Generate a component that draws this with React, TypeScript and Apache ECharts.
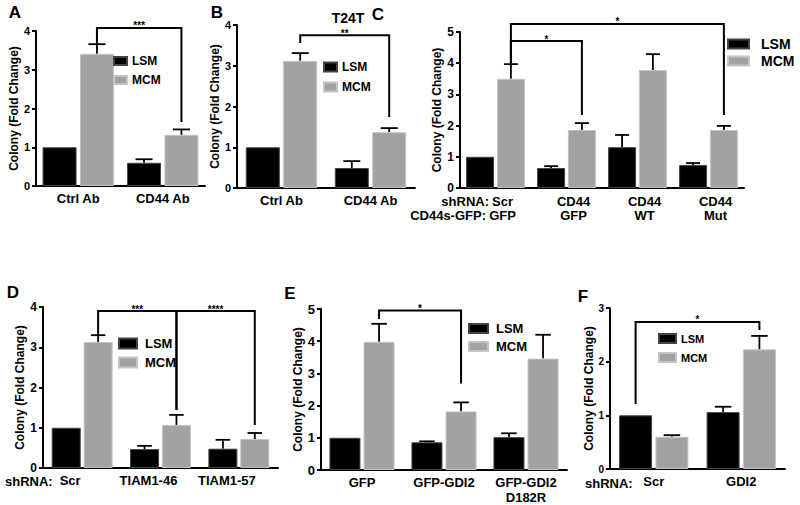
import React, { useEffect, useRef } from 'react';
import * as echarts from 'echarts';

// ---------- data ----------
const aCategories = ['Ctrl Ab', 'CD44 Ab'];
const aLSM = [1.0, 0.6];
const aLSMErr = [0, 0.09];
const aMCM = [3.41, 1.32];
const aMCMErr = [0.25, 0.14];
// [cat1, side1, legBottom1, cat2, side2, legBottom2, top]  side 0 = LSM, 1 = MCM
const aBrackets = [[0, 1, 3.66, 1, 1, 1.65, 4.08]];
const aStars = ['***'];

const bCategories = ['Ctrl Ab', 'CD44 Ab'];
const bLSM = [1.0, 0.49];
const bLSMErr = [0, 0.17];
const bMCM = [3.12, 1.37];
const bMCMErr = [0.19, 0.1];
const bBrackets = [[0, 1, 3.56, 1, 1, 1.74, 3.75]];
const bStars = ['**'];

const cCategories = ['Scr\nGFP', 'CD44\nGFP', 'CD44\nWT', 'CD44\nMut'];
const cLSM = [1.0, 0.64, 1.31, 0.74];
const cLSMErr = [0, 0.06, 0.39, 0.06];
const cMCM = [3.5, 1.86, 3.78, 1.86];
const cMCMErr = [0.47, 0.22, 0.51, 0.13];
const cBrackets = [
  [0, 1, 3.97, 1, 1, 2.34, 4.71],
  [0, 1, 3.97, 3, 1, 2.34, 5.26],
];
const cStars = ['*', '*'];

const dCategories = ['Scr', 'TIAM1-46', 'TIAM1-57'];
const dLSM = [1.0, 0.47, 0.48];
const dLSMErr = [0, 0.08, 0.22];
const dMCM = [3.13, 1.07, 0.72];
const dMCMErr = [0.17, 0.25, 0.15];
const dBrackets = [
  [0, 1, 3.3, 1, 1, 1.44, 3.9],
  [1, 1, 1.44, 2, 1, 1.07, 3.9],
];
const dStars = ['***', '****'];

const eCategories = ['GFP', 'GFP-GDI2', 'GFP-GDI2\nD182R'];
const eLSM = [1.0, 0.86, 1.02];
const eLSMErr = [0, 0.03, 0.12];
const eMCM = [3.98, 1.82, 3.46];
const eMCMErr = [0.56, 0.28, 0.74];
const eBrackets = [[0, 1, 4.69, 1, 1, 2.69, 4.95]];
const eStars = ['*'];

const fCategories = ['Scr', 'GDI2'];
const fLSM = [1.0, 1.06];
const fLSMErr = [0, 0.1];
const fMCM = [0.6, 2.23];
const fMCMErr = [0.03, 0.25];
const fBrackets = [[0, 0, 1.21, 1, 1, 2.59, 2.74]];
const fStars = ['*'];

const yTitle = 'Colony (Fold Change)';
const seriesNames = ['LSM', 'MCM'];

// ---------- layout / style ----------
const FONT = '"Liberation Sans", Arial, Helvetica, sans-serif';
const GRAY = '#a2a2a2';

const panels = [
  {
    cats: aCategories, lsm: aLSM, lsmErr: aLSMErr, mcm: aMCM, mcmErr: aMCMErr, br: aBrackets, stars: aStars,
    grid: { left: 36, top: 31, width: 169, height: 155 }, yMax: 4, barW: 34, nameGap: 16,
    tickFont: 11, catFont: 13, catPad: [0, 0, 0, 0], catLH: 15, catMargin: 5,
    legend: { left: 113, top: 54, itemWidth: 13, itemHeight: 8, itemGap: 5, fontSize: 12, lh: 14 },
  },
  {
    cats: bCategories, lsm: bLSM, lsmErr: bLSMErr, mcm: bMCM, mcmErr: bMCMErr, br: bBrackets, stars: bStars,
    grid: { left: 237, top: 25, width: 178, height: 163 }, yMax: 4, barW: 34, nameGap: 12,
    tickFont: 11, catFont: 13, catPad: [0, 0, 0, 0], catLH: 15, catMargin: 5,
    legend: { left: 323, top: 60, itemWidth: 13, itemHeight: 9, itemGap: 6, fontSize: 12, lh: 14 },
  },
  {
    cats: cCategories, lsm: cLSM, lsmErr: cLSMErr, mcm: cMCM, mcmErr: cMCMErr, br: cBrackets, stars: cStars,
    grid: { left: 460, top: 32, width: 284, height: 156 }, yMax: 5, barW: 28, nameGap: 13,
    tickFont: 12, catFont: 13, catPad: [0, 0, 0, 14], catLH: 14, catMargin: 6,
    legend: { left: 727, top: 36, itemWidth: 21, itemHeight: 9, itemGap: 1, fontSize: 14, lh: 16, textPad: 7 },
  },
  {
    cats: dCategories, lsm: dLSM, lsmErr: dLSMErr, mcm: dMCM, mcmErr: dMCMErr, br: dBrackets, stars: dStars,
    grid: { left: 43, top: 307, width: 235, height: 161 }, yMax: 4, barW: 29, nameGap: 13,
    tickFont: 12, catFont: 13, catPad: [0, 24, 0, 0], catLH: 15, catMargin: 5,
    legend: { left: 118, top: 336, itemWidth: 18, itemHeight: 10, itemGap: 4, fontSize: 13, lh: 15, textPad: 3 },
  },
  {
    cats: eCategories, lsm: eLSM, lsmErr: eLSMErr, mcm: eMCM, mcmErr: eMCMErr, br: eBrackets, stars: eStars,
    grid: { left: 321, top: 309, width: 246, height: 161 }, yMax: 5, barW: 31, nameGap: 13,
    tickFont: 13, catFont: 13, catPad: [0, 0, 0, 0], catLH: 15, catMargin: 5,
    legend: { left: 468, top: 321, itemWidth: 19, itemHeight: 9, itemGap: 3, fontSize: 13, lh: 15, textPad: 3 },
  },
  {
    cats: fCategories, lsm: fLSM, lsmErr: fLSMErr, mcm: fMCM, mcmErr: fMCMErr, br: fBrackets, stars: fStars,
    grid: { left: 610, top: 308, width: 175, height: 161 }, yMax: 3, barW: 33, nameGap: 13,
    tickFont: 10, catFont: 13, catPad: [0, 0, 0, 0], catLH: 15, catMargin: 5,
    legend: { left: 658, top: 332, itemWidth: 17, itemHeight: 9, itemGap: 6, fontSize: 11, lh: 13 },
  },
];

const letters = [
  { t: 'A', x: 15, y: 12 },
  { t: 'B', x: 217, y: 12 },
  { t: 'C', x: 378, y: 14 },
  { t: 'D', x: 13, y: 292 },
  { t: 'E', x: 290, y: 293 },
  { t: 'F', x: 583, y: 296 },
];

function buildOption() {
  const grid: any[] = [];
  const xAxis: any[] = [];
  const yAxis: any[] = [];
  const series: any[] = [];
  const legend: any[] = [];

  panels.forEach((p, i) => {
    const gapFrac = 0.1;
    const off = (p.barW * (1 + gapFrac)) / 2;
    const capW = p.barW * 0.5;
    grid.push({ ...p.grid, containLabel: false });
    xAxis.push({
      type: 'category', gridIndex: i, data: p.cats,
      axisLine: { lineStyle: { color: '#000', width: 2 } },
      axisTick: { show: false },
      axisLabel: {
        color: '#000', fontWeight: 'bold', fontSize: p.catFont, fontFamily: FONT,
        margin: p.catMargin, interval: 0, lineHeight: p.catLH, padding: p.catPad,
      },
    });
    yAxis.push({
      type: 'value', gridIndex: i, min: 0, max: p.yMax, interval: 1,
      splitLine: { show: false },
      axisLine: { show: true, lineStyle: { color: '#000', width: 2 } },
      axisTick: { show: true, length: 4, lineStyle: { color: '#000', width: 2 } },
      axisLabel: { color: '#000', fontWeight: 'bold', fontSize: p.tickFont, fontFamily: FONT, margin: 6 },
      name: yTitle, nameLocation: 'middle', nameRotate: 90, nameGap: p.nameGap,
      nameTextStyle: { color: '#000', fontWeight: 'bold', fontSize: 12, fontFamily: FONT },
    });
    series.push({
      type: 'bar', name: seriesNames[0], xAxisIndex: i, yAxisIndex: i, data: p.lsm,
      barWidth: p.barW, barGap: '10%',
      itemStyle: { color: '#000', borderColor: '#444', borderWidth: 1 },
    });
    series.push({
      type: 'bar', name: seriesNames[1], xAxisIndex: i, yAxisIndex: i, data: p.mcm,
      barWidth: p.barW, barGap: '10%',
      itemStyle: { color: GRAY, borderColor: '#c4c4c4', borderWidth: 1 },
    });
    const errData: number[][] = [];
    p.lsm.forEach((v, k) => { if (p.lsmErr[k] > 0) errData.push([k, v, p.lsmErr[k], 0]); });
    p.mcm.forEach((v, k) => { if (p.mcmErr[k] > 0) errData.push([k, v, p.mcmErr[k], 1]); });
    series.push({
      type: 'custom', name: 'err' + i, xAxisIndex: i, yAxisIndex: i, clip: false, silent: true,
      encode: { x: 0, y: 1 },
      data: errData,
      renderItem: (params: any, api: any) => {
        const cat = api.value(0), top = api.value(1), err = api.value(2), side = api.value(3);
        const p0 = api.coord([cat, top]);
        const p1 = api.coord([cat, top + err]);
        const x = p0[0] + (side ? off : -off);
        return {
          type: 'group', children: [
            { type: 'line', shape: { x1: x, y1: p0[1], x2: x, y2: p1[1] }, style: { stroke: '#000', lineWidth: 1.8 } },
            { type: 'line', shape: { x1: x - capW / 2, y1: p1[1], x2: x + capW / 2, y2: p1[1] }, style: { stroke: '#000', lineWidth: 1.8 } },
          ],
        };
      },
    });
    series.push({
      type: 'custom', name: 'br' + i, xAxisIndex: i, yAxisIndex: i, clip: false, silent: true, z: 5,
      encode: { x: 0, y: 2 },
      data: p.br,
      renderItem: (params: any, api: any) => {
        const c1 = api.value(0), s1 = api.value(1), b1 = api.value(2);
        const c2 = api.value(3), s2 = api.value(4), b2 = api.value(5), t = api.value(6);
        const q1 = api.coord([c1, b1]);
        const q2 = api.coord([c2, b2]);
        const qt = api.coord([c1, t]);
        const x1 = q1[0] + (s1 ? off : -off);
        const x2 = q2[0] + (s2 ? off : -off);
        return {
          type: 'group', children: [
            {
              type: 'polyline',
              shape: { points: [[x1, q1[1]], [x1, qt[1]], [x2, qt[1]], [x2, q2[1]]] },
              style: { stroke: '#000', lineWidth: 2, fill: null },
            },
            {
              type: 'text',
              style: {
                text: p.stars[params.dataIndex], x: (x1 + x2) / 2, y: qt[1] + 3,
                textAlign: 'center', textVerticalAlign: 'bottom',
                font: 'bold 10px ' + FONT, fill: '#000',
              },
            },
          ],
        };
      },
    });
    const L = p.legend as any;
    legend.push({
      data: seriesNames, orient: 'vertical', left: L.left, top: L.top, padding: 0,
      itemWidth: L.itemWidth, itemHeight: L.itemHeight, itemGap: L.itemGap, icon: 'rect',
      selectedMode: false,
      textStyle: {
        color: '#000', fontWeight: 'bold', fontSize: L.fontSize, fontFamily: FONT, lineHeight: L.lh,
        padding: [0, 0, 0, L.textPad || 0],
      },
    });
  });

  const graphic: any[] = letters.map((l) => ({
    type: 'text', x: l.x, y: l.y,
    style: { text: l.t, font: 'bold 17px ' + FONT, fill: '#000', textAlign: 'center', textVerticalAlign: 'middle' },
  }));
  const extraTexts = [
    { t: 'T24T', x: 348, y: 18, align: 'center', size: 14 },
    { t: 'shRNA:', x: 489, y: 201, align: 'right', size: 13 },
    { t: 'CD44s-GFP:', x: 486, y: 215, align: 'right', size: 13 },
    { t: 'shRNA:', x: 5, y: 481, align: 'left', size: 13 },
    { t: 'shRNA:', x: 585, y: 483, align: 'left', size: 13 },
  ];
  extraTexts.forEach((e) => graphic.push({
    type: 'text', x: e.x, y: e.y,
    style: { text: e.t, font: 'bold ' + e.size + 'px ' + FONT, fill: '#000', textAlign: e.align, textVerticalAlign: 'middle' },
  }));

  return {
    animation: false,
    backgroundColor: '#fff',
    textStyle: { fontFamily: FONT },
    grid, xAxis, yAxis, series, legend, graphic,
  };
}

export default function App() {
  const ref = useRef<HTMLDivElement>(null);
  useEffect(() => {
    if (!ref.current) return;
    const chart = echarts.init(ref.current, null, { renderer: 'svg' });
    chart.setOption(buildOption() as any);
    return () => chart.dispose();
  }, []);
  return (
    <div
      ref={ref}
      style={{ position: 'fixed', left: 0, top: 0, width: 800, height: 505, background: '#fff' }}
    />
  );
}
